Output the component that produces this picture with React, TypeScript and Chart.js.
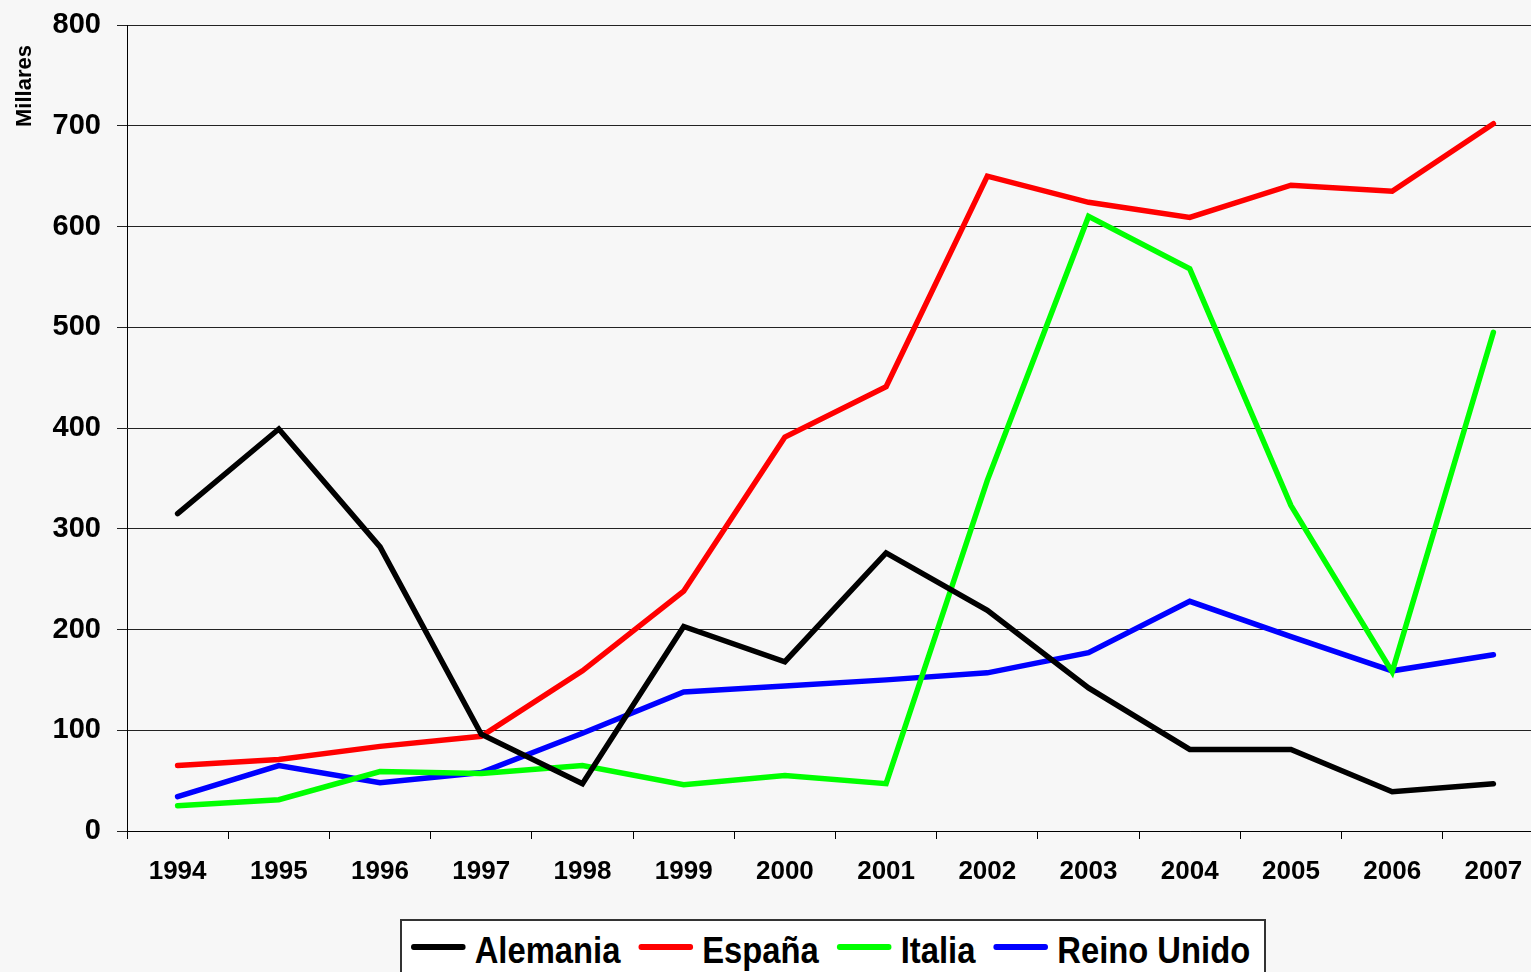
import React, { useEffect, useRef } from 'react';
import { Chart, registerables } from 'chart.js';

Chart.register(...registerables);

// ---- Data ----
const years = ['1994', '1995', '1996', '1997', '1998', '1999', '2000', '2001', '2002', '2003', '2004', '2005', '2006', '2007'];
const alemania = [315, 399, 282, 96, 47, 203, 168, 276, 219, 142, 81, 81, 39, 47];
const espana = [65, 71, 84, 94, 159, 238, 391, 441, 650, 624, 609, 641, 635, 702];
const italia = [25, 31, 59, 57, 65, 46, 55, 47, 348, 610, 558, 323, 158, 495];
const reinoUnido = [34, 65, 48, 58, 97, 138, 144, 150, 157, 177, 228, 193, 159, 175];
const seriesNames = ['Alemania', 'España', 'Italia', 'Reino Unido'];
const seriesColors = ['#000000', '#ff0000', '#00ff00', '#0000ff'];
const yAxisTitle = 'Millares';

const FONT = '"Liberation Sans", Arial, Helvetica, sans-serif';

export default function App() {
  const canvasRef = useRef<HTMLCanvasElement>(null);

  useEffect(() => {
    document.body.style.margin = '0';
    document.body.style.background = '#f7f7f7';
    const canvas = canvasRef.current;
    if (!canvas) return;
    const values = [alemania, espana, italia, reinoUnido];

    const yTitlePlugin = {
      id: 'yTitlePlugin',
      afterDraw(chart: any) {
        const ctx = chart.ctx;
        ctx.save();
        ctx.translate(25, 86);
        ctx.rotate(-Math.PI / 2);
        ctx.font = `bold 22px ${FONT}`;
        ctx.fillStyle = '#000';
        ctx.textAlign = 'center';
        ctx.textBaseline = 'middle';
        ctx.fillText(yAxisTitle, 0, 0);
        ctx.restore();
      },
    };

    const chart = new Chart(canvas, {
      type: 'line',
      data: {
        labels: years,
        datasets: values.map((v, i) => ({
          label: seriesNames[i],
          data: v,
          borderColor: seriesColors[i],
          backgroundColor: seriesColors[i],
          borderWidth: 5.5,
          pointRadius: 0,
          pointHoverRadius: 0,
          tension: 0,
          fill: false,
          borderCapStyle: 'round',
          borderJoinStyle: 'miter',
        })),
      },
      options: {
        responsive: false,
        animation: false,
        devicePixelRatio: 1,
        layout: { padding: { top: 25, left: 0, right: 0, bottom: 0 } },
        plugins: {
          legend: { display: false },
          tooltip: { enabled: false },
        },
        scales: {
          x: {
            offset: true,
            grid: {
              display: true,
              drawOnChartArea: false,
              drawTicks: true,
              tickLength: 8,
              offset: true,
              color: '#000',
              lineWidth: 1,
            },
            border: { display: true, color: '#000', width: 1 },
            ticks: {
              color: '#000',
              font: { family: FONT, size: 26, weight: 'bold' },
              padding: 17,
              maxRotation: 0,
              autoSkip: false,
            },
            afterFit(scale: any) {
              scale.height = 141;
            },
          },
          y: {
            min: 0,
            max: 800,
            ticks: {
              stepSize: 100,
              color: '#000',
              font: { family: FONT, size: 29, weight: 'bold', lineHeight: 0.5 },
              padding: 16,
            },
            grid: { color: '#222', lineWidth: 1, tickLength: 10, drawTicks: true },
            border: { display: true, color: '#000', width: 1 },
            afterFit(scale: any) {
              scale.width = 127;
            },
          },
        },
      } as any,
      plugins: [yTitlePlugin],
    });

    return () => chart.destroy();
  }, []);

  return (
    <div
      style={{
        position: 'fixed',
        left: 0,
        top: 0,
        width: 1531,
        height: 972,
        overflow: 'hidden',
        background: '#f7f7f7',
      }}
    >
      <canvas ref={canvasRef} width={1544} height={972} style={{ display: 'block', width: 1544, height: 972 }} />
      <div
        style={{
          position: 'absolute',
          left: 400,
          top: 919,
          width: 866,
          height: 70,
          border: '2px solid #333',
          background: '#ffffff',
          boxSizing: 'border-box',
        }}
      />
      <div
        style={{
          position: 'absolute',
          left: 411,
          top: 932.5,
          height: 36,
          display: 'flex',
          alignItems: 'center',
          transform: 'scaleX(0.91)',
          transformOrigin: 'left center',
          whiteSpace: 'nowrap',
          fontFamily: FONT,
          fontWeight: 'bold',
          fontSize: 36,
          lineHeight: '36px',
          color: '#000',
        }}
      >
        {seriesNames.map((name, i) => (
          <div key={name} style={{ display: 'flex', alignItems: 'center', marginRight: i < seriesNames.length - 1 ? 20 : 0 }}>
            <span
              style={{
                display: 'inline-block',
                width: 60,
                height: 6,
                borderRadius: 3,
                background: seriesColors[i],
                marginRight: 10,
                position: 'relative',
                top: -3.5,
              }}
            />
            <span>{name}</span>
          </div>
        ))}
      </div>
    </div>
  );
}
